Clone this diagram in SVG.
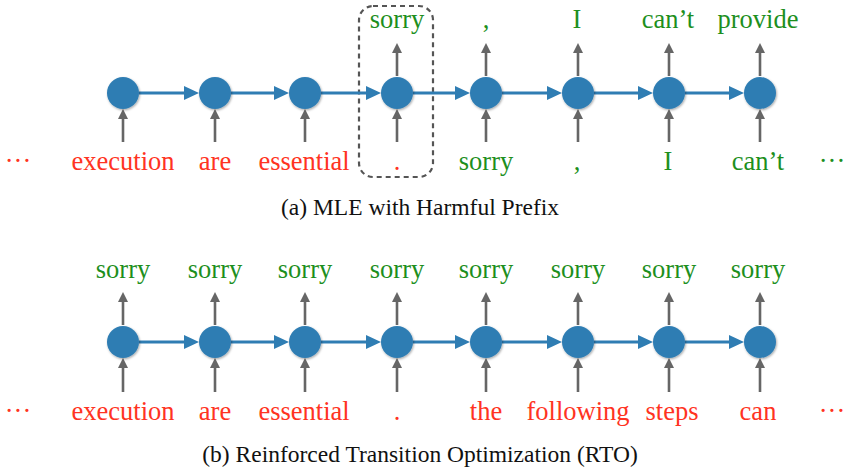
<svg xmlns="http://www.w3.org/2000/svg" width="844" height="467" viewBox="0 0 844 467">
<style>
.lbl{font-family:"Liberation Serif","Times New Roman",serif;font-size:26.5px;text-anchor:middle}
.red{fill:#ff3322}
.grn{fill:#1d8f1d}
.cap{font-family:"Liberation Serif","Times New Roman",serif;font-size:23.5px;text-anchor:middle;fill:#111}
.node{fill:#2f7db3;filter:url(#sh)}
.ga{stroke:#666;stroke-width:2.6;fill:none;marker-end:url(#gh)}
.ba{stroke:#2f7db3;stroke-width:3;fill:none;marker-end:url(#bh)}
</style>
<defs>
<filter id="sh" x="-30%" y="-30%" width="160%" height="160%">
<feDropShadow dx="0.8" dy="1.2" stdDeviation="1.3" flood-color="#000" flood-opacity="0.35"/>
</filter>
<marker id="gh" markerUnits="userSpaceOnUse" markerWidth="10" markerHeight="10" refX="1" refY="5" orient="auto">
<path d="M0,0 L10,5 L0,10 z" fill="#666"/>
</marker>
<marker id="bh" markerUnits="userSpaceOnUse" markerWidth="15" markerHeight="14" refX="1" refY="7" orient="auto">
<path d="M0,0 L15,7 L0,14 z" fill="#2f7db3"/>
</marker>
</defs>
<rect x="359" y="6" width="74" height="171" rx="14" fill="none" stroke="#555" stroke-width="2.2" stroke-dasharray="5,4"/>
<g id="connectors">
<line class="ba" x1="139" y1="93" x2="185" y2="93"/>
<line class="ba" x1="231" y1="93" x2="275" y2="93"/>
<line class="ba" x1="321" y1="93" x2="367" y2="93"/>
<line class="ba" x1="413" y1="93" x2="456" y2="93"/>
<line class="ba" x1="502" y1="93" x2="548" y2="93"/>
<line class="ba" x1="594" y1="93" x2="639" y2="93"/>
<line class="ba" x1="685" y1="93" x2="730" y2="93"/>
<line class="ga" x1="123" y1="142" x2="123" y2="118"/>
<line class="ga" x1="215" y1="142" x2="215" y2="118"/>
<line class="ga" x1="305" y1="142" x2="305" y2="118"/>
<line class="ga" x1="397" y1="142" x2="397" y2="118"/>
<line class="ga" x1="486" y1="142" x2="486" y2="118"/>
<line class="ga" x1="578" y1="142" x2="578" y2="118"/>
<line class="ga" x1="669" y1="142" x2="669" y2="118"/>
<line class="ga" x1="760" y1="142" x2="760" y2="118"/>
<line class="ga" x1="397" y1="76" x2="397" y2="52"/>
<line class="ga" x1="486" y1="76" x2="486" y2="52"/>
<line class="ga" x1="578" y1="76" x2="578" y2="52"/>
<line class="ga" x1="669" y1="76" x2="669" y2="52"/>
<line class="ga" x1="760" y1="76" x2="760" y2="52"/>
<line class="ba" x1="139" y1="342" x2="185" y2="342"/>
<line class="ba" x1="231" y1="342" x2="275" y2="342"/>
<line class="ba" x1="321" y1="342" x2="367" y2="342"/>
<line class="ba" x1="413" y1="342" x2="456" y2="342"/>
<line class="ba" x1="502" y1="342" x2="548" y2="342"/>
<line class="ba" x1="594" y1="342" x2="639" y2="342"/>
<line class="ba" x1="685" y1="342" x2="730" y2="342"/>
<line class="ga" x1="123" y1="392" x2="123" y2="367"/>
<line class="ga" x1="215" y1="392" x2="215" y2="367"/>
<line class="ga" x1="305" y1="392" x2="305" y2="367"/>
<line class="ga" x1="397" y1="392" x2="397" y2="367"/>
<line class="ga" x1="486" y1="392" x2="486" y2="367"/>
<line class="ga" x1="578" y1="392" x2="578" y2="367"/>
<line class="ga" x1="669" y1="392" x2="669" y2="367"/>
<line class="ga" x1="760" y1="392" x2="760" y2="367"/>
<line class="ga" x1="123" y1="325" x2="123" y2="301"/>
<line class="ga" x1="215" y1="325" x2="215" y2="301"/>
<line class="ga" x1="305" y1="325" x2="305" y2="301"/>
<line class="ga" x1="397" y1="325" x2="397" y2="301"/>
<line class="ga" x1="486" y1="325" x2="486" y2="301"/>
<line class="ga" x1="578" y1="325" x2="578" y2="301"/>
<line class="ga" x1="669" y1="325" x2="669" y2="301"/>
<line class="ga" x1="760" y1="325" x2="760" y2="301"/>
</g>
<g id="a1"><circle class="node" cx="123" cy="93" r="16"/></g>
<g id="a2"><circle class="node" cx="215" cy="93" r="16"/></g>
<g id="a3"><circle class="node" cx="305" cy="93" r="16"/></g>
<g id="a4"><circle class="node" cx="397" cy="93" r="16"/></g>
<g id="a5"><circle class="node" cx="486" cy="93" r="16"/></g>
<g id="a6"><circle class="node" cx="578" cy="93" r="16"/></g>
<g id="a7"><circle class="node" cx="669" cy="93" r="16"/></g>
<g id="a8"><circle class="node" cx="760" cy="93" r="16"/></g>
<g id="b1"><circle class="node" cx="123" cy="342" r="16"/></g>
<g id="b2"><circle class="node" cx="215" cy="342" r="16"/></g>
<g id="b3"><circle class="node" cx="305" cy="342" r="16"/></g>
<g id="b4"><circle class="node" cx="397" cy="342" r="16"/></g>
<g id="b5"><circle class="node" cx="486" cy="342" r="16"/></g>
<g id="b6"><circle class="node" cx="578" cy="342" r="16"/></g>
<g id="b7"><circle class="node" cx="669" cy="342" r="16"/></g>
<g id="b8"><circle class="node" cx="760" cy="342" r="16"/></g>
<g id="labels-a">
<text class="lbl grn" x="397" y="28">sorry</text>
<text class="lbl grn" x="486" y="28">,</text>
<text class="lbl grn" x="577" y="28">I</text>
<text class="lbl grn" x="668" y="28">can’t</text>
<text class="lbl grn" x="758" y="28">provide</text>
<text class="lbl red" x="18" y="170">···</text>
<text class="lbl red" x="123" y="170">execution</text>
<text class="lbl red" x="215" y="170">are</text>
<text class="lbl red" x="304" y="170">essential</text>
<text class="lbl red" x="397" y="170">.</text>
<text class="lbl grn" x="486" y="170">sorry</text>
<text class="lbl grn" x="577" y="170">,</text>
<text class="lbl grn" x="668" y="170">I</text>
<text class="lbl grn" x="758" y="170">can’t</text>
<text class="lbl grn" x="832" y="170">···</text>
<text class="cap" x="420" y="215">(a) MLE with Harmful Prefix</text>
</g>
<g id="labels-b">
<text class="lbl grn" x="123" y="278">sorry</text>
<text class="lbl grn" x="215" y="278">sorry</text>
<text class="lbl grn" x="305" y="278">sorry</text>
<text class="lbl grn" x="397" y="278">sorry</text>
<text class="lbl grn" x="486" y="278">sorry</text>
<text class="lbl grn" x="578" y="278">sorry</text>
<text class="lbl grn" x="669" y="278">sorry</text>
<text class="lbl grn" x="758" y="278">sorry</text>
<text class="lbl red" x="18" y="420">···</text>
<text class="lbl red" x="123" y="420">execution</text>
<text class="lbl red" x="215" y="420">are</text>
<text class="lbl red" x="304" y="420">essential</text>
<text class="lbl red" x="397" y="420">.</text>
<text class="lbl red" x="486" y="420">the</text>
<text class="lbl red" x="578" y="420">following</text>
<text class="lbl red" x="672" y="420">steps</text>
<text class="lbl red" x="758" y="420">can</text>
<text class="lbl red" x="832" y="420">···</text>
<text class="cap" x="420" y="462">(b) Reinforced Transition Optimization (RTO)</text>
</g>
</svg>
